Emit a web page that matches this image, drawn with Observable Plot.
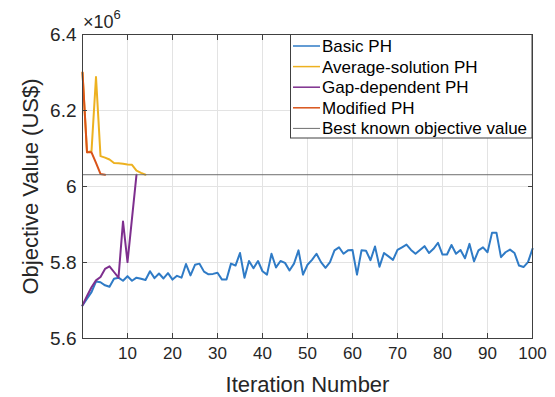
<!DOCTYPE html>
<html><head><meta charset="utf-8">
<script src="https://cdn.jsdelivr.net/npm/d3@7"></script>
<script src="https://cdn.jsdelivr.net/npm/@observablehq/plot@0.6"></script>
<style>
html,body{margin:0;padding:0;background:#fff;}
#chart{width:555px;height:397px;}
</style></head><body><div id="chart"></div>
<script>
// Objective value in units of 10^6 US$, indexed by iteration number (0..N)
const basicPH = [
  5.687, 5.705, 5.722, 5.750, 5.748, 5.740, 5.736, 5.757, 5.760, 5.752,
  5.764, 5.752, 5.760, 5.757, 5.754, 5.777, 5.759, 5.771, 5.758, 5.772,
  5.755, 5.765, 5.760, 5.796, 5.766, 5.794, 5.797, 5.776, 5.769, 5.770,
  5.773, 5.755, 5.755, 5.797, 5.792, 5.825, 5.760, 5.804, 5.785, 5.804,
  5.777, 5.768, 5.823, 5.787, 5.804, 5.799, 5.779, 5.797, 5.832, 5.768,
  5.794, 5.807, 5.823, 5.801, 5.786, 5.801, 5.832, 5.840, 5.823, 5.832,
  5.833, 5.768, 5.832, 5.831, 5.806, 5.842, 5.789, 5.825, 5.816, 5.807,
  5.833, 5.840, 5.847, 5.833, 5.823, 5.833, 5.843, 5.825, 5.836, 5.852,
  5.821, 5.821, 5.846, 5.823, 5.833, 5.811, 5.849, 5.803, 5.832, 5.840,
  5.827, 5.878, 5.878, 5.814, 5.827, 5.834, 5.825, 5.792, 5.788, 5.801,
  5.836
];
const averageSolutionPH = [6.300, 6.090, 6.093, 6.288, 6.080, 6.076, 6.071, 6.062, 6.061, 6.060, 6.058, 6.057, 6.042, 6.036, 6.031];
const gapDependentPH = [5.687, 5.712, 5.735, 5.753, 5.762, 5.783, 5.790, 5.775, 5.760, 5.908, 5.801, 5.916, 6.031];
const modifiedPH = [6.300, 6.090, 6.090, 6.062, 6.033, 6.031];
const bestKnownValue = 6.031;

const seriesNames = ["Basic PH", "Average-solution PH", "Gap-dependent PH", "Modified PH", "Best known objective value"];
const seriesColors = ["#2F7BC6", "#EDB120", "#7E2F8E", "#D95319", "#6e6e6e"];
const seriesWidths = [2, 2, 2, 2, 1];
const xTicks = [10, 20, 30, 40, 50, 60, 70, 80, 90, 100];
const yTicks = [5.6, 5.8, 6.0, 6.2, 6.4];
const xLabel = "Iteration Number";
const yLabel = "Objective Value (US$)";
const exponentBase = "×10";
const exponentPower = "6";

const toRows = (vals, name) => vals.map((v, i) => ({series: name, iter: i, value: v}));
const allSeries = [basicPH, averageSolutionPH, gapDependentPH, modifiedPH];

const font = '"Liberation Sans", Arial, Helvetica, sans-serif';
const ink = "#262626";

const svg = Plot.plot({
  width: 555, height: 397,
  marginLeft: 82, marginRight: 23, marginTop: 34, marginBottom: 59,
  style: {fontFamily: font, fontSize: "17px", color: ink, background: "white", overflow: "visible"},
  x: {domain: [0, 100]},
  y: {domain: [5.6, 6.4]},
  marks: [
    Plot.gridX(xTicks, {stroke: "#e3e3e3", strokeOpacity: 1}),
    Plot.gridY(yTicks, {stroke: "#e3e3e3", strokeOpacity: 1}),
    ...allSeries.map((vals, k) => Plot.line(toRows(vals, seriesNames[k]), {
      x: "iter", y: "value", stroke: seriesColors[k], strokeWidth: seriesWidths[k], strokeLinejoin: "round"
    })),
    Plot.ruleY([bestKnownValue], {stroke: seriesColors[4], strokeWidth: seriesWidths[4]}),
    Plot.frame({stroke: "#404040", strokeWidth: 1}),
    Plot.axisX(xTicks, {anchor: "bottom", tickSize: -5, tickPadding: 13, label: null, fontSize: 17, stroke: "#404040"}),
    Plot.axisX(xTicks, {anchor: "top", tickSize: -5, label: null, fill: "none", stroke: "#404040"}),
    Plot.axisY(yTicks, {anchor: "left", tickSize: -5, tickPadding: 11, label: null, fontSize: 19, stroke: "#404040",
      tickFormat: d3.format("~g")}),
    Plot.axisY(yTicks, {anchor: "right", tickSize: -5, label: null, fill: "none", stroke: "#404040"}),
    Plot.text([xLabel], {frameAnchor: "bottom", dy: 46, text: d => d, fontSize: 22, fill: ink, lineAnchor: "middle"}),
    Plot.text([yLabel], {frameAnchor: "left", dx: -52, text: d => d, fontSize: 22, fill: ink, rotate: -90,
      textAnchor: "middle", lineAnchor: "middle"})
  ]
});

// Exponent label (top-left) and legend (inside top-right)
const s = d3.select(svg);
const ex = s.append("text").attr("x", 83).attr("y", 28).attr("fill", ink).attr("text-anchor", "start")
  .style("font-family", font).style("font-size", "18px").text(exponentBase);
ex.append("tspan").attr("dy", -9).style("font-size", "13px").text(exponentPower);

const lg = s.append("g").style("font-family", font).style("font-size", "17px").attr("text-anchor", "start");
const lx = 290.5, ly = 34.5, lw = 241.5, lh = 103.5, rowH = 20.6;
lg.append("rect").attr("x", lx).attr("y", ly).attr("width", lw).attr("height", lh)
  .attr("fill", "white").attr("stroke", "#404040").attr("stroke-width", 1);
seriesNames.forEach((name, i) => {
  const y = 46 + i * rowH;
  lg.append("line").attr("x1", 293).attr("x2", 320).attr("y1", y).attr("y2", y)
    .attr("stroke", seriesColors[i]).attr("stroke-width", i < 4 ? 1.5 : 1);
  lg.append("text").attr("x", 322).attr("y", y).attr("dy", "0.35em").attr("fill", "#000")
    .attr("text-anchor", "start").text(name);
});

document.getElementById("chart").appendChild(svg);
</script>
</body></html>
